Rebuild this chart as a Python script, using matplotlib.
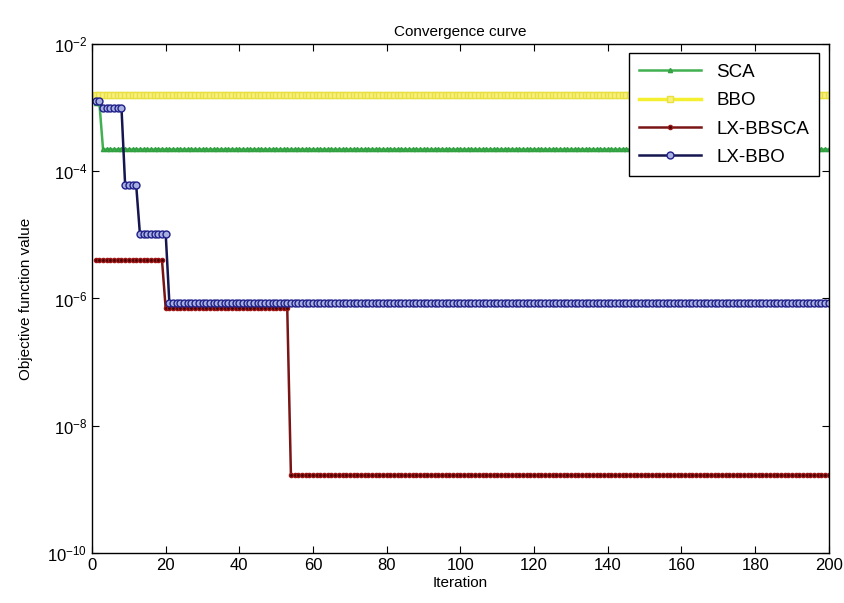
import matplotlib.pyplot as plt
import numpy as np

iterations = np.arange(1, 201)

# step levels: (last iteration of the step, value)
sca_steps = [(2, 1.2e-3), (200, 2.2e-4)]
bbo_steps = [(200, 1.6e-3)]
lxbbsca_steps = [(19, 4.0e-6), (53, 7.0e-7), (200, 1.65e-9)]
lxbbo_steps = [(2, 1.25e-3), (8, 1.0e-3), (12, 6.0e-5), (20, 1.05e-5), (200, 8.5e-7)]


def expand(steps):
    vals = []
    start = 0
    for end, v in steps:
        vals += [v] * (end - start)
        start = end
    return np.array(vals)


sca = expand(sca_steps)
bbo = expand(bbo_steps)
lxbbsca = expand(lxbbsca_steps)
lxbbo = expand(lxbbo_steps)

plt.rcParams['font.family'] = ['Liberation Sans', 'DejaVu Sans']
fig = plt.figure(figsize=(8.44, 6.03), dpi=100)
ax = fig.add_axes([0.109, 0.083, 0.873, 0.844])

ax.semilogy(iterations, sca, color='#40b050', lw=1.8, marker='^', ms=3, mec='#30a040', label='SCA')
ax.semilogy(iterations, bbo, color='#f4f030', lw=2.5, marker='s', ms=5, mfc='#f8f080', mec='#e8e040', label='BBO')
ax.semilogy(iterations, lxbbsca, color='#7a1515', lw=1.8, marker='.', ms=6, mfc='#400000', mec='#a01818', label='LX-BBSCA')
ax.semilogy(iterations, lxbbo, color='#151550', lw=1.8, marker='o', ms=5, mfc='#a8b0e0', mec='#20208a', label='LX-BBO')

ax.set_xlim(0, 200)
ax.set_ylim(1e-10, 1e-2)
ax.set_xticks(np.arange(0, 201, 20))
ax.set_yticks([1e-10, 1e-8, 1e-6, 1e-4, 1e-2])
ax.minorticks_off()
ax.tick_params(direction='in', top=True, right=True, labelsize=12, length=5)
for s in ax.spines.values():
    s.set_linewidth(1.0)

ax.set_title('Convergence curve', fontsize=11)
ax.set_xlabel('Iteration', fontsize=11, labelpad=2)
ax.set_ylabel('Objective function value', fontsize=11, labelpad=10)

leg = ax.legend(loc='upper right', fontsize=13.5, fancybox=False, framealpha=1,
                edgecolor='black', borderaxespad=0.5, handlelength=3.3,
                labelspacing=0.6, borderpad=0.55)
leg.get_frame().set_linewidth(1.0)

fig.savefig('out.png', dpi=100)
